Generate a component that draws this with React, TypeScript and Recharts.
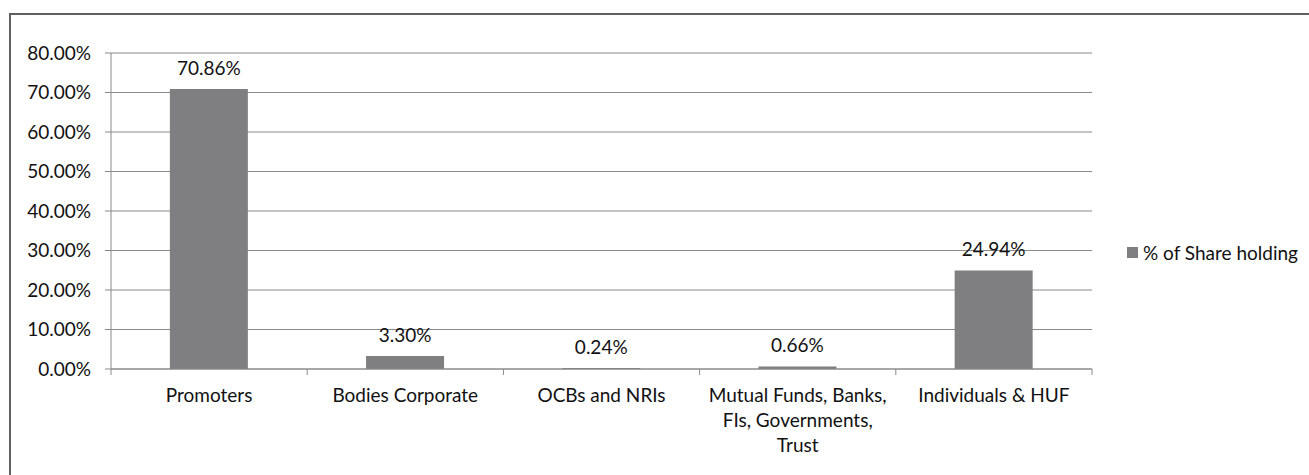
import { BarChart, Bar, XAxis, YAxis, CartesianGrid, Legend, LabelList } from 'recharts'

const categories = ['Promoters', 'Bodies Corporate', 'OCBs and NRIs', 'Mutual Funds, Banks, FIs, Governments, Trust', 'Individuals & HUF']
const shareHolding = [0.7086, 0.033, 0.0024, 0.0066, 0.2494]
const yTicks = [0, 0.1, 0.2, 0.3, 0.4, 0.5, 0.6, 0.7, 0.8]
const seriesName = '% of Share holding'

const FONT = 'Lato, "Open Sans", sans-serif'
const FONT_SIZE = 19
const AXIS_GRAY = '#8a8a8a'
const BAR_GRAY = '#7f7f81'
const TEXT = '#111'

const pct = (v: number) => `${(v * 100).toFixed(2)}%`

const data = categories.map((name, i) => ({ name, value: shareHolding[i] }))

// greedy word wrap, measured with the real font
let ctx: CanvasRenderingContext2D | null = null
function wrap(label: string, maxWidth: number) {
  if (!ctx) ctx = document.createElement('canvas').getContext('2d')
  if (!ctx) return [label]
  ctx.font = `${FONT_SIZE}px ${FONT}`
  const lines: string[] = []
  let cur = ''
  for (const w of label.split(' ')) {
    const next = cur ? `${cur} ${w}` : w
    if (cur && ctx.measureText(next).width > maxWidth) {
      lines.push(cur)
      cur = w
    } else {
      cur = next
    }
  }
  if (cur) lines.push(cur)
  return lines
}

function CategoryTick(props: any) {
  const { x, y, payload, index, visibleTicksCount, width } = props
  const half = payload?.offset ?? width / visibleTicksCount / 2
  const lines = wrap(String(payload.value), half * 2 - 12)
  return (
    <g>
      <line x1={x - half} x2={x - half} y1={y} y2={y + 6} stroke={AXIS_GRAY} />
      {index === visibleTicksCount - 1 && (
        <line x1={x + half} x2={x + half} y1={y} y2={y + 6} stroke={AXIS_GRAY} />
      )}
      <text x={x} y={y + 33} textAnchor="middle" fill={TEXT} fontSize={FONT_SIZE} fontFamily={FONT}>
        {lines.map((l, i) => (
          <tspan key={i} x={x} dy={i === 0 ? 0 : 25}>
            {l}
          </tspan>
        ))}
      </text>
    </g>
  )
}

function LegendBox() {
  return (
    <div style={{ display: 'flex', alignItems: 'center', fontFamily: FONT, fontSize: FONT_SIZE, color: TEXT, whiteSpace: 'nowrap' }}>
      <span style={{ display: 'inline-block', width: 11, height: 11, background: BAR_GRAY, marginRight: 5 }} />
      {seriesName}
    </div>
  )
}

export default function App() {
  return (
    <div
      style={{
        position: 'fixed',
        left: 9,
        top: 13,
        width: 1300,
        height: 470,
        borderTop: '2px solid #606060',
        borderLeft: '2px solid #606060',
        boxSizing: 'border-box',
        background: '#fff',
      }}
    >
      <BarChart
        width={1298}
        height={455}
        data={data}
        margin={{ top: 38, right: 217, left: 0, bottom: 0 }}
        barCategoryGap="30%"
        style={{ fontFamily: FONT }}
      >
        <CartesianGrid vertical={false} stroke={AXIS_GRAY} />
        <XAxis
          dataKey="name"
          height={101}
          interval={0}
          tickLine={false}
          tickSize={0}
          tickMargin={0}
          axisLine={{ stroke: AXIS_GRAY }}
          tick={<CategoryTick />}
        />
        <YAxis
          width={100}
          domain={[0, 0.8]}
          ticks={yTicks}
          interval={0}
          tickFormatter={pct}
          tickSize={6}
          tickMargin={14}
          tickLine={{ stroke: AXIS_GRAY }}
          axisLine={{ stroke: AXIS_GRAY }}
          tick={{ fill: TEXT, fontSize: FONT_SIZE, fontFamily: FONT }}
        />
        <Legend
          layout="horizontal"
          align="center"
          verticalAlign="middle"
          wrapperStyle={{ left: 1116, top: 226, width: 'auto' }}
          content={() => <LegendBox />}
        />
        <Bar dataKey="value" name={seriesName} fill={BAR_GRAY} isAnimationActive={false}>
          <LabelList
            dataKey="value"
            position="top"
            offset={14}
            formatter={(v: any) => pct(Number(v))}
            fill={TEXT}
            fontSize={FONT_SIZE}
            fontFamily={FONT}
          />
        </Bar>
      </BarChart>
    </div>
  )
}
